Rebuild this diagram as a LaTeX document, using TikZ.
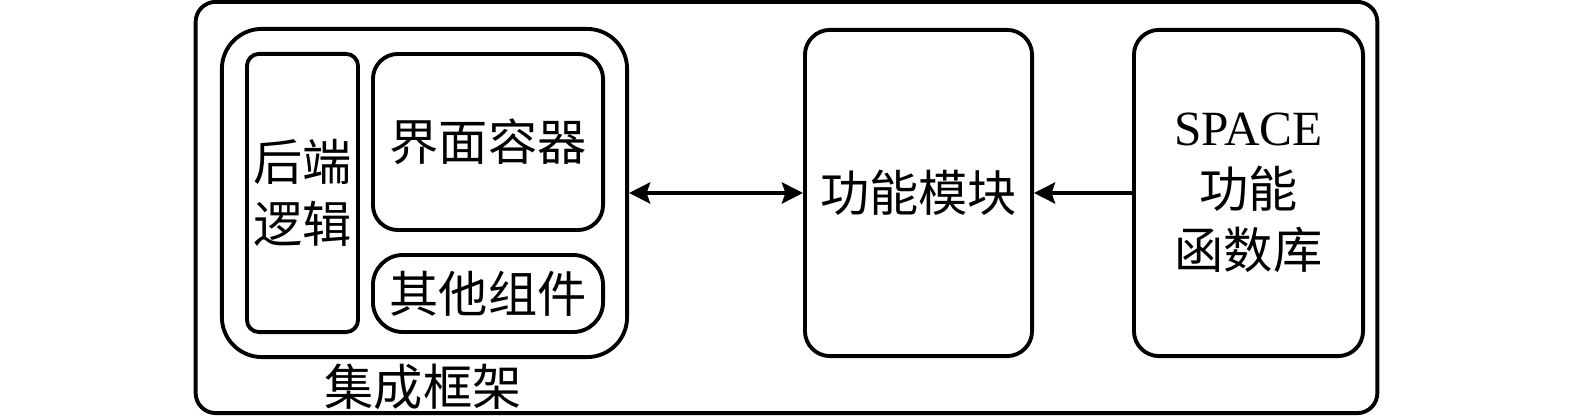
\documentclass[tikz,border=0pt]{standalone}
\usepackage{fontspec}
\setmainfont{Liberation Serif}
\newfontfamily\cjk{Noto Sans CJK SC}
\usetikzlibrary{arrows.meta}
\tikzset{
  blk/.style={draw, line width=1.1pt, inner sep=0pt, align=center,
    font=\fontsize{14pt}{17.5pt}\selectfont},
  lbl/.style={inner sep=0pt, font=\fontsize{14pt}{17.5pt}\selectfont},
  link/.style={line width=1pt, {Stealth[length=6pt,width=6pt,inset=1pt]}-{Stealth[length=6pt,width=6pt,inset=1pt]}},
  feed/.style={line width=1pt, -{Stealth[length=6pt,width=6pt,inset=1pt]}}
}
\begin{document}
\begin{tikzpicture}[x=0.01cm, y=-0.01cm]
\useasboundingbox (0,0) rectangle (1575,416);
\node[blk, rounded corners=0.2cm, minimum width=11.81cm, minimum height=4.11cm] (outer) at (786.5,207.5){};
\node[blk, rounded corners=0.4cm, minimum width=4.05cm, minimum height=3.28cm] (frame) at (424.5,193){};
\node[blk, rounded corners=0.12cm, minimum width=1.11cm, minimum height=2.78cm] (backend) at (302.5,193){\cjk 后端\\\cjk 逻辑};
\node[blk, rounded corners=0.25cm, minimum width=2.30cm, minimum height=1.76cm] (ui) at (488,142){\cjk 界面容器};
\node[blk, rounded corners=0.3cm, minimum width=2.30cm, minimum height=0.77cm] (other) at (488,293.5){\cjk 其他组件};
\node[lbl] (frametext) at (423,387){\cjk 集成框架};
\node[blk, rounded corners=0.25cm, minimum width=2.27cm, minimum height=3.26cm] (func) at (918.5,193){\cjk 功能模块};
\node[blk, rounded corners=0.25cm, minimum width=2.29cm, minimum height=3.26cm] (space) at (1248.5,193){SPACE\\{\cjk 功能}\\{\cjk 函数库}};
\draw[link](frame) -- (func);
\draw[feed](space) -- (func);
\end{tikzpicture}
\end{document}
